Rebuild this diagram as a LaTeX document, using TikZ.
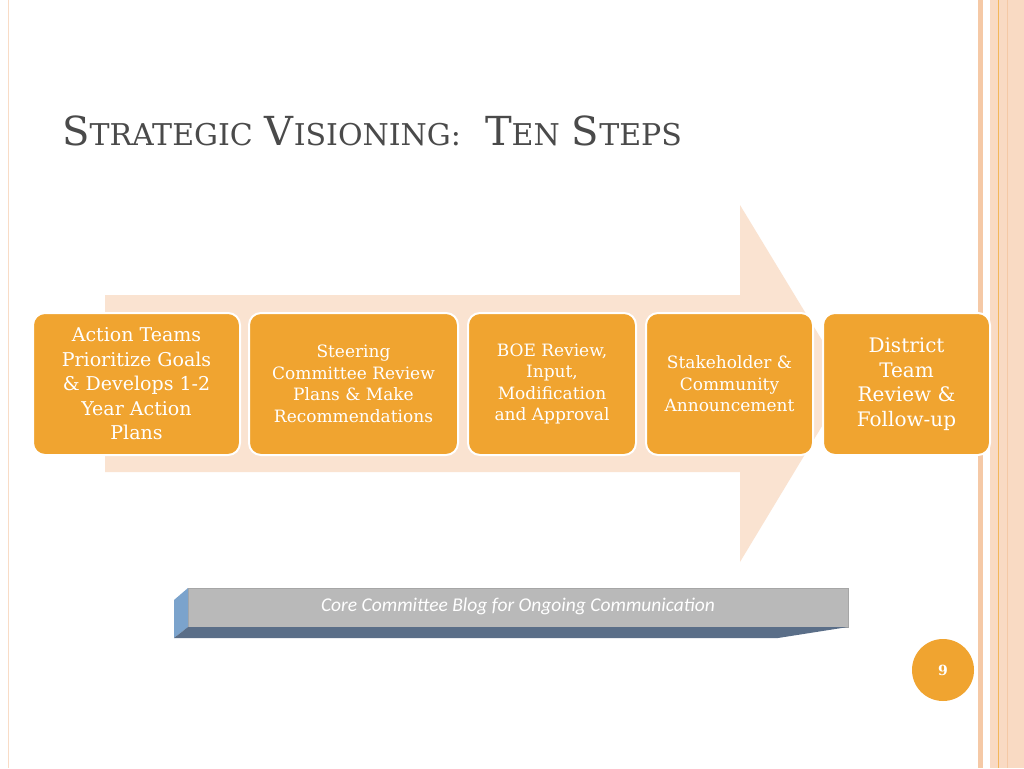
\documentclass[tikz,border=0pt]{standalone}
\usepackage{fontspec}
\setmainfont{DejaVu Serif}
\newfontfamily\carl{Carlito}
\definecolor{boxo}{HTML}{F0A430}
\definecolor{peach}{HTML}{F9DCC6}
\definecolor{stripe}{HTML}{F5C9A6}
\definecolor{titlec}{HTML}{4A4A4A}
\definecolor{barside}{HTML}{7BA3CC}
\definecolor{barbot}{HTML}{5A6E88}
\newcommand{\BigC}[1]{{\fontsize{40}{40}\selectfont #1}}
\newcommand{\SmC}[1]{{\fontsize{30}{30}\selectfont #1}}
\begin{document}
\begin{tikzpicture}[x=1pt,y=-1pt,
  stepbox/.style={draw=white,line width=2pt,fill=boxo,rounded corners=12pt,text=white,align=center,inner sep=2pt},
  font=\fontsize{16}{17}\selectfont]
\useasboundingbox (0,0) rectangle (1024,768);
\fill[white] (0,0) rectangle (1024,768);
% right stripes
\fill[stripe] (978,0) rectangle (983,768);
\fill[peach!90!stripe] (990,0) rectangle (1024,768);
\draw[boxo!80,line width=0.8pt] (998,0) -- (998,768);
\draw[stripe,line width=1pt] (1007,0) -- (1007,768);
\draw[peach,line width=0.6pt] (8,0) -- (8,768);
% title
\node[anchor=base west,text=titlec,inner sep=0] (title) at (62,145)
 {\BigC{S}\SmC{TRATEGIC}\hspace{12pt}\BigC{V}\SmC{ISIONING:}\hspace{24pt}\BigC{T}\SmC{EN}\hspace{12pt}\BigC{S}\SmC{TEPS}};
% big arrow
\fill[peach!80] (105,295) -- (740,295) -- (740,205) -- (848,383) -- (740,562) -- (740,472) -- (105,472) -- cycle;
% boxes
\node[stepbox,minimum width=207pt,minimum height=142pt,font=\fontsize{19}{24.5}\selectfont] (s1) at (136.5,384) {Action Teams\\Prioritize Goals\\\& Develops 1-2\\Year Action\\Plans};
\node[stepbox,minimum width=209pt,minimum height=142pt,font=\fontsize{17}{21.5}\selectfont] (s2) at (353.5,384) {Steering\\Committee Review\\Plans \& Make\\Recommendations};
\node[stepbox,minimum width=168pt,minimum height=142pt,font=\fontsize{17}{21.5}\selectfont] (s3) at (552,384) {BOE Review,\\Input,\\Modification\\and Approval};
\node[stepbox,minimum width=167pt,minimum height=142pt,font=\fontsize{17}{21.5}\selectfont] (s4) at (729.5,384) {Stakeholder \&\\Community\\Announcement};
\node[stepbox,minimum width=167pt,minimum height=142pt,font=\fontsize{20}{24.5}\selectfont] (s5) at (906.5,384) {District\\Team\\Review \&\\Follow-up};
% blog bar
\fill[gray!55] (188,588) rectangle (848,627);
\draw[gray!70,line width=0.6pt] (188,588) rectangle (848,627);
\fill[barside] (174,600) -- (188,588) -- (188,627) -- (174,638) -- cycle;
\fill[barbot] (174,638) -- (778,638) -- (848,627) -- (188,627) -- cycle;
\node[text=white,font=\carl\itshape\fontsize{19.5}{19.5}\selectfont] (blog) at (518,606) {Core Committee Blog for Ongoing Communication};
% page number
\node[circle,fill=boxo,minimum size=62pt,text=white,font=\bfseries\fontsize{14}{14}\selectfont] (pg) at (943,670) {9};
\end{tikzpicture}
\end{document}
